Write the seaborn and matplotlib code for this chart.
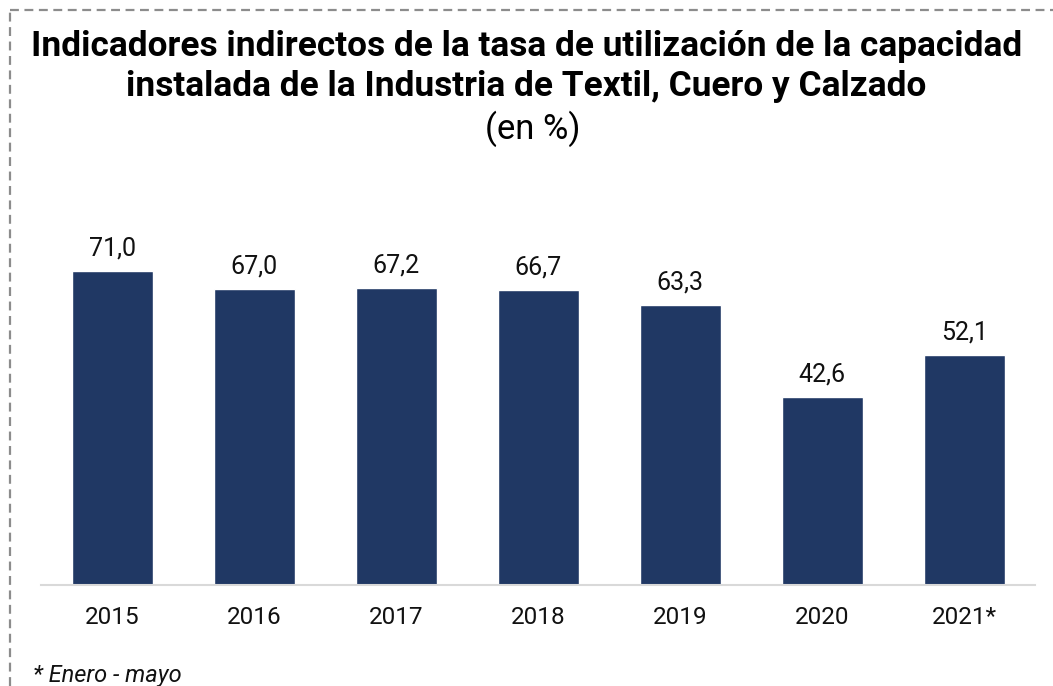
import matplotlib
matplotlib.use("Agg")
import matplotlib.pyplot as plt
import seaborn as sns
import pandas as pd
from matplotlib.lines import Line2D

years = ["2015", "2016", "2017", "2018", "2019", "2020", "2021*"]
values = [71.0, 67.0, 67.2, 66.7, 63.3, 42.6, 52.1]

bar_color = "#203864"

sns.set_theme(style="white")
plt.rcParams["font.family"] = ["Roboto", "DejaVu Sans"]

df = pd.DataFrame({"Año": years, "Tasa": values})

fig = plt.figure(figsize=(10.53, 6.86), dpi=100)
ax = fig.add_axes([0.039, 0.147, 0.944, 0.516])

sns.barplot(data=df, x="Año", y="Tasa", color=bar_color, width=0.57,
            saturation=1, ax=ax)

for i, v in enumerate(values):
    ax.text(i, v + 2.3, f"{v:.1f}".replace(".", ","), ha="center", va="bottom",
            fontsize=18, color="#111111")

ax.set_ylim(0, 80)
ax.set_xlim(-0.5, 6.5)
ax.set_yticks([])
ax.set_xlabel("")
ax.set_ylabel("")
for s in ["top", "right", "left"]:
    ax.spines[s].set_visible(False)
ax.spines["bottom"].set_color("#d9d9d9")
ax.spines["bottom"].set_linewidth(1.5)
ax.tick_params(axis="x", length=0, labelsize=17.5, pad=15, colors="#111111")

fig.text(0.5, 0.932, "Indicadores indirectos de la tasa de utilización de la capacidad",
         ha="center", va="center", fontsize=25.4, fontweight="bold", color="black")
fig.text(0.5, 0.874, "instalada de la Industria de Textil, Cuero y Calzado",
         ha="center", va="center", fontsize=25.4, fontweight="bold", color="black")
fig.text(0.506, 0.813, "(en %)", ha="center", va="center", fontsize=25, color="black")
fig.text(0.031, 0.016, "* Enero - mayo", ha="left", va="center", fontsize=17,
         style="italic", color="#111111")

# dashed frame (top and left edges visible)
y_top = 1 - 10 / 686
x_left = 10 / 1053
fig.add_artist(Line2D([x_left, 1.0], [y_top, y_top], transform=fig.transFigure,
                      color="#8c8c8c", lw=1.6, linestyle=(0, (4, 2.5))))
fig.add_artist(Line2D([x_left, x_left], [0.0, y_top], transform=fig.transFigure,
                      color="#8c8c8c", lw=1.6, linestyle=(0, (4, 2.5))))

fig.savefig("out.png", dpi=100)
